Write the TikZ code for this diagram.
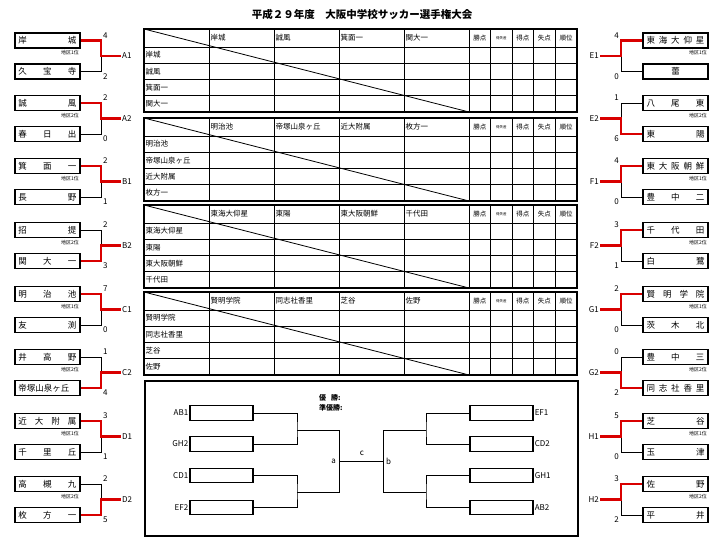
\documentclass[tikz,border=0pt]{standalone}
\usepackage{fontspec}
\setmainfont{Noto Sans CJK JP}
\newcommand\spr[1]{\hbox to 58pt{#1}}
\newcommand\lpair[8]{%
 \node[tbox] (#1abox) at (47.5,#2) {\spr{#3}};
 \node[tbox] (#1bbox) at (47.5,#2+31) {\spr{#4}};
 \coordinate (#1aj) at (101,#2); \coordinate (#1bj) at (101,#2+31);
 \coordinate (#1m) at (101,#2+15.5); \coordinate (#1e) at (121,#2+15.5);
 \draw[thin] (#1abox.east)--(#1aj)--(#1bj)--(#1bbox.east);
 \draw[win] (#1#7box.east)--(#1#7j)--(#1m)--(#1e);
 \node[lab,anchor=west] (#1lab) at (#1e) {#1};
 \node[lab,anchor=west] (#1as) at (102,#2-5) {#5};
 \node[lab,anchor=west] (#1bs) at (102,#2+36) {#6};
 \node[rank,anchor=east] (#1rk) at (79,#2+12.5) {地区#8位};}
\newcommand\rpair[8]{%
 \node[tbox] (#1abox) at (675.5,#2) {\spr{#3}};
 \node[tbox] (#1bbox) at (675.5,#2+31) {\spr{#4}};
 \coordinate (#1aj) at (621,#2); \coordinate (#1bj) at (621,#2+31);
 \coordinate (#1m) at (621,#2+15.5); \coordinate (#1e) at (600,#2+15.5);
 \draw[thin] (#1abox.west)--(#1aj)--(#1bj)--(#1bbox.west);
 \draw[win] (#1#7box.west)--(#1#7j)--(#1m)--(#1e);
 \node[lab,anchor=east] (#1lab) at (#1e) {#1};
 \node[lab,anchor=east] (#1as) at (620,#2-5) {#5};
 \node[lab,anchor=east] (#1bs) at (620,#2+36) {#6};
 \node[rank,anchor=east] (#1rk) at (707,#2+12.5) {地区#8位};}
\newcommand\grid[6]{%
 \foreach \yy in {18,34.25,50.5,66.75} \draw[line width=0.8pt] (144,#2+\yy)--(577,#2+\yy);
 \foreach \xx in {209,274,339,404,469,490.5,512,533.5,555} \draw[line width=0.8pt] (\xx,#2)--(\xx,#2+83);
 \draw[line width=1.2pt] (144,#2) rectangle (577,#2+83);
 \draw[line width=0.8pt] (144,#2)--(469,#2+83);
 \node[cell] (#1h1) at (209,#2+9) {#3};
 \node[cell] (#1h2) at (274,#2+9) {#4};
 \node[cell] (#1h3) at (339,#2+9) {#5};
 \node[cell] (#1h4) at (404,#2+9) {#6};
 \node[cell] (#1r1) at (144,#2+26) {#3};
 \node[cell] (#1r2) at (144,#2+42.25) {#4};
 \node[cell] (#1r3) at (144,#2+58.5) {#5};
 \node[cell] (#1r4) at (144,#2+74.75) {#6};
 \node[hcell] (#1k1) at (479.75,#2+9) {勝点};
 \node[hcell,font=\fontsize{3.5}{4}\selectfont] (#1k2) at (501.25,#2+9) {得失差};
 \node[hcell] (#1k3) at (522.75,#2+9) {得点};
 \node[hcell] (#1k4) at (544.25,#2+9) {失点};
 \node[hcell] (#1k5) at (566,#2+9) {順位};}
\newcommand\fb[3]{\node[draw,line width=1.1pt,minimum width=63pt,minimum height=14.5pt,inner sep=0pt] (#1) at (#2,#3) {};}
\begin{document}
\begin{tikzpicture}[x=1pt,y=-1pt,
  tbox/.style={draw,line width=1.1pt,minimum width=65pt,minimum height=15pt,inner sep=0pt,font=\fontsize{8.5}{9}\selectfont},
  thin/.style={line width=0.9pt},
  win/.style={line width=2.6pt,red!85!black},
  lab/.style={font=\fontsize{8}{9}\selectfont,inner sep=1pt},
  rank/.style={font=\fontsize{5}{6}\selectfont,inner sep=0pt},
  cell/.style={font=\fontsize{7.5}{8}\selectfont,anchor=west,inner sep=1.5pt},
  hcell/.style={font=\fontsize{6.5}{7}\selectfont,inner sep=0pt}]
\useasboundingbox (0,0) rectangle (724,545);
\node[font=\bfseries\fontsize{10.5}{12}\selectfont] (title) at (362,15) {平成２９年度　大阪中学校サッカー選手権大会};
\lpair{A1}{40.5}{岸\hfill 城}{久\hfill 宝\hfill 寺}{4}{2}{a}{1}
\lpair{A2}{103}{誠\hfill 風}{春\hfill 日\hfill 出}{2}{0}{a}{2}
\lpair{B1}{166}{箕\hfill 面\hfill 一}{長\hfill 野}{2}{1}{a}{1}
\lpair{B2}{230}{招\hfill 提}{関\hfill 大\hfill 一}{2}{3}{b}{2}
\lpair{C1}{294}{明\hfill 治\hfill 池}{友\hfill 渕}{7}{0}{a}{1}
\lpair{C2}{357}{井\hfill 高\hfill 野}{帝塚山泉ヶ丘}{1}{4}{b}{2}
\lpair{D1}{421}{近\hfill 大\hfill 附\hfill 属}{千\hfill 里\hfill 丘}{3}{1}{a}{1}
\lpair{D2}{484}{高\hfill 槻\hfill 九}{枚\hfill 方\hfill 一}{2}{5}{b}{2}
\rpair{E1}{40.5}{東\hfill 海\hfill 大\hfill 仰\hfill 星}{\hfill 蕾\hfill}{4}{0}{a}{1}
\rpair{E2}{103}{八\hfill 尾\hfill 東}{東\hfill 陽}{1}{6}{b}{2}
\rpair{F1}{166}{東\hfill 大\hfill 阪\hfill 朝\hfill 鮮}{豊\hfill 中\hfill 二}{4}{0}{a}{1}
\rpair{F2}{230}{千\hfill 代\hfill 田}{白\hfill 鷺}{3}{1}{a}{2}
\rpair{G1}{294}{賢\hfill 明\hfill 学\hfill 院}{茨\hfill 木\hfill 北}{2}{0}{a}{1}
\rpair{G2}{357}{豊\hfill 中\hfill 三}{同\hfill 志\hfill 社\hfill 香\hfill 里}{0}{2}{b}{2}
\rpair{H1}{421}{芝\hfill 谷}{玉\hfill 津}{5}{0}{a}{1}
\rpair{H2}{484}{佐\hfill 野}{平\hfill 井}{3}{2}{a}{2}
\grid{T1}{29}{岸城}{誠風}{箕面一}{関大一}
\grid{T2}{118}{明治池}{帝塚山泉ヶ丘}{近大附属}{枚方一}
\grid{T3}{205}{東海大仰星}{東陽}{東大阪朝鮮}{千代田}
\grid{T4}{292}{賢明学院}{同志社香里}{芝谷}{佐野}
\draw[line width=1.8pt] (145,381) rectangle (578,536);
\fb{fAB1}{221.5}{413}\fb{fGH2}{221.5}{444}\fb{fCD1}{221.5}{475.5}\fb{fEF2}{221.5}{507.5}
\fb{fEF1}{501.5}{413}\fb{fCD2}{501.5}{444}\fb{fGH1}{501.5}{475.5}\fb{fAB2}{501.5}{507.5}
\foreach \n in {AB1,GH2,CD1,EF2} \node[lab,anchor=east] (l\n) at (f\n.west) {\n};
\foreach \n in {EF1,CD2,GH1,AB2} \node[lab,anchor=west] (l\n) at (f\n.east) {\n};
\coordinate (qa) at (339,461); \coordinate (qb) at (383,461);
\draw[thin] (fAB1.east)-|(297,430)|-(fGH2.east);
\draw[thin] (fCD1.east)-|(297,492)|-(fEF2.east);
\draw[thin] (297,430)-|(339,492)--(297,492);
\draw[thin] (fEF1.west)-|(426,430)|-(fCD2.west);
\draw[thin] (fGH1.west)-|(426,492)|-(fAB2.west);
\draw[thin] (426,430)-|(383,492)--(426,492);
\draw[thin] (qa)--(qb);
\node[lab,anchor=east] (na) at (337,461) {a};
\node[lab] (nc) at (362,453) {c};
\node[lab,anchor=west] (nb) at (385,461) {b};
\node[lab,anchor=west,font=\bfseries\fontsize{7}{8}\selectfont] (yu) at (318,398) {優\hspace{5pt}勝:};
\node[lab,anchor=west,font=\bfseries\fontsize{7}{8}\selectfont] (ju) at (318,407.5) {準優勝:};
\end{tikzpicture}
\end{document}
